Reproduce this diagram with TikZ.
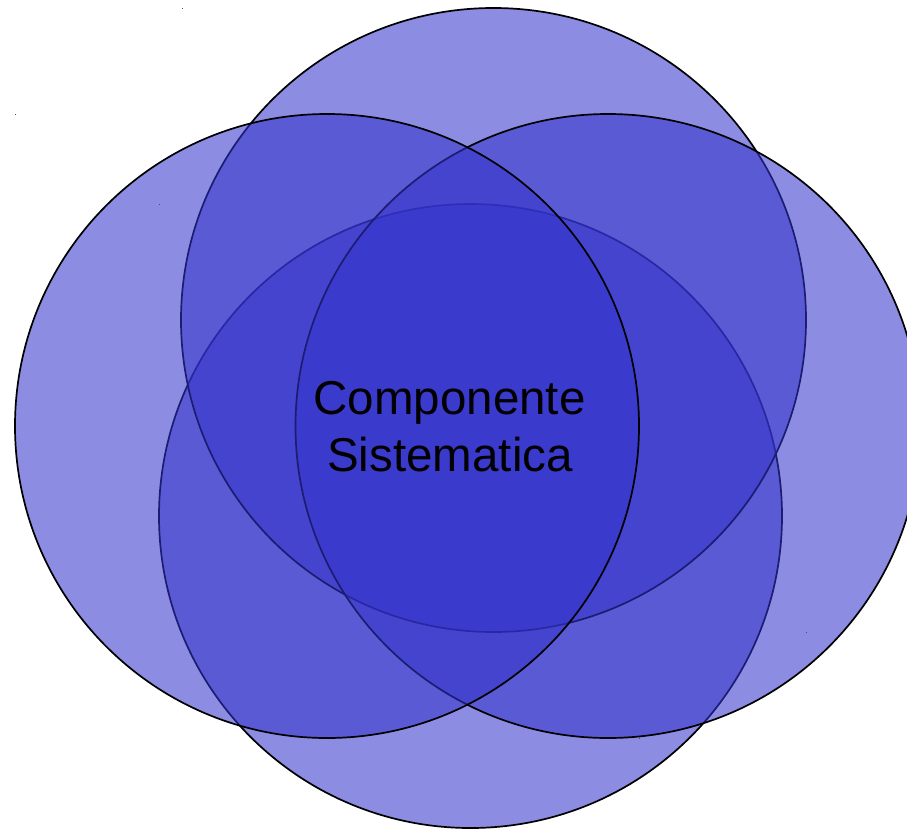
\documentclass[tikz,border=0pt]{standalone}
\usepackage{fontspec}
\setmainfont{Liberation Sans}
\definecolor{vennblue}{RGB}{51,51,204}
\tikzset{
  venn/.style={draw=black, line width=1.7pt, fill=vennblue, fill opacity=0.56},
  label/.style={font=\fontsize{47.5}{57}\selectfont, text=black, inner sep=0pt, anchor=base},
  speck/.style={fill=black!70}
}
\begin{document}
\begin{tikzpicture}[x=1pt,y=-1pt]
\useasboundingbox (0,0) rectangle (907,828);
\fill[white] (0,0) rectangle (907,828);
% bottom, top, right, left
\path[venn] (470.5,516) ellipse [x radius=311.5pt, y radius=312pt];
\path[venn] (493.5,320) ellipse [x radius=312.5pt, y radius=312pt];
\path[venn] (608,426) ellipse [x radius=312.5pt, y radius=312pt];
\path[venn] (327,426) ellipse [x radius=312pt, y radius=312pt];
% tiny specks
\fill[speck] (181.5,7.5) rectangle (182.5,8.5);
\fill[speck] (14.5,113.5) rectangle (15.5,114.5);
\fill[speck] (158.5,203.5) rectangle (159.5,204.5);
\fill[speck] (805.5,631.5) rectangle (806.5,632.5);
\fill[speck] (638.5,737.5) rectangle (639.5,738.5);
\node[label] (l1) at (449.5,414) {Componente};
\node[label] (l2) at (450,471) {Sistematica};
\end{tikzpicture}
\end{document}
